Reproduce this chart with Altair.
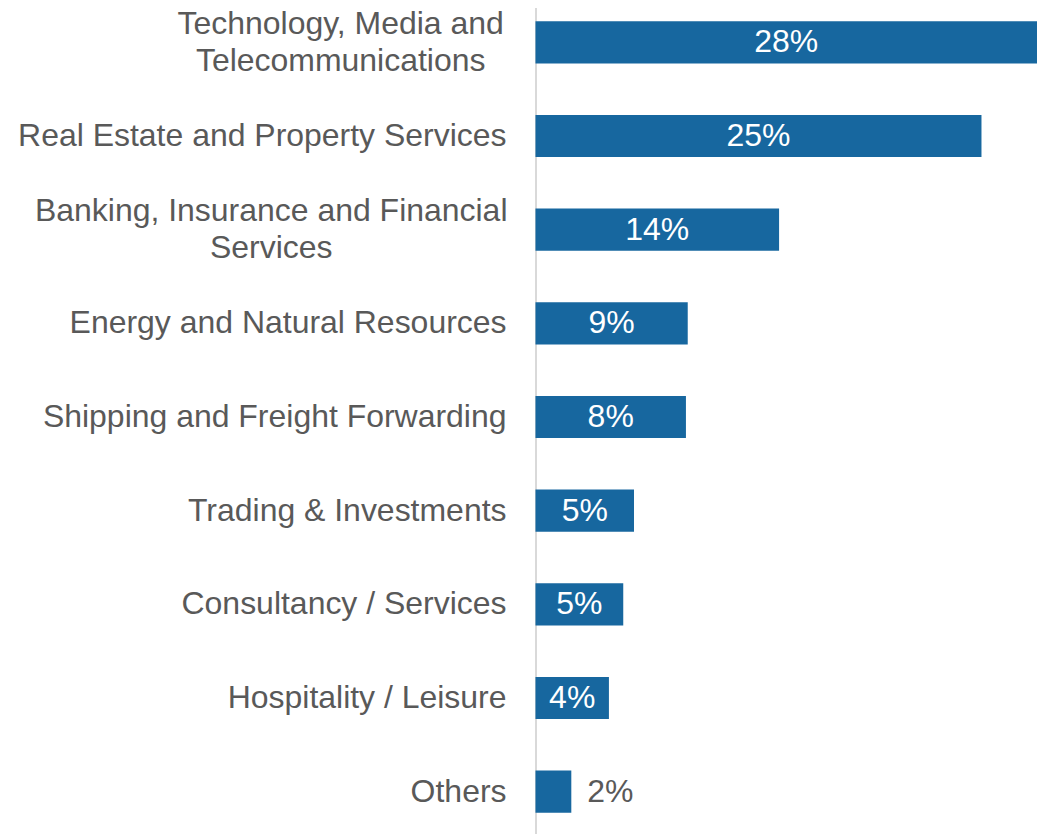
import altair as alt
import pandas as pd

categories = [
    "Technology, Media and Telecommunications",
    "Real Estate and Property Services",
    "Banking, Insurance and Financial Services",
    "Energy and Natural Resources",
    "Shipping and Freight Forwarding",
    "Trading & Investments",
    "Consultancy / Services",
    "Hospitality / Leisure",
    "Others",
]
display_names = [
    "Technology, Media and\nTelecommunications",
    "Real Estate and Property Services",
    "Banking, Insurance and Financial\nServices",
    "Energy and Natural Resources",
    "Shipping and Freight Forwarding",
    "Trading & Investments",
    "Consultancy / Services",
    "Hospitality / Leisure",
    "Others",
]
values = [28.0, 24.9, 13.6, 8.5, 8.4, 5.5, 4.9, 4.1, 2.0]
value_labels = ["28%", "25%", "14%", "9%", "8%", "5%", "5%", "4%", "2%"]

# style
BAR = "#17679F"
GREY = "#595959"
FONT = "Liberation Sans"
FS = 32
LINE_H = 37
LABEL_RIGHT = -29
# centres of the two-line (centre-aligned) category labels
CENTRED = {
    "Technology, Media and Telecommunications": -195,
    "Banking, Insurance and Financial Services": -264.5,
}

df = pd.DataFrame({
    "category": categories,
    "display": display_names,
    "value": values,
    "label": value_labels,
})

y = alt.Y(
    "category:N",
    sort=categories,
    scale=alt.Scale(paddingInner=0.55, paddingOuter=0.223),
    axis=alt.Axis(
        title=None, labels=False, ticks=False, grid=False,
        domain=True, domainColor="#D9D9D9", domainWidth=2,
    ),
)
xscale = alt.Scale(domain=[0, 28], nice=False, zero=True)

base = alt.Chart(df)

bars = base.mark_bar(color=BAR).encode(
    x=alt.X("value:Q", scale=xscale, axis=None),
    y=y,
)

inside = base.transform_filter("datum.value >= 3").transform_calculate(
    mid="datum.value / 2"
).mark_text(
    color="white", font=FONT, fontSize=FS, align="center", baseline="middle"
).encode(
    x=alt.X("mid:Q", scale=xscale, axis=None),
    y=y,
    text="label:N",
)

outside = base.transform_filter("datum.value < 3").mark_text(
    color=GREY, font=FONT, fontSize=FS, align="left", baseline="middle", dx=16
).encode(
    x=alt.X("value:Q", scale=xscale, axis=None),
    y=y,
    text="label:N",
)

centred_names = list(CENTRED.keys())
single = base.transform_filter(
    alt.FieldOneOfPredicate(field="category", oneOf=[c for c in categories if c not in centred_names])
).mark_text(
    color=GREY, font=FONT, fontSize=FS, align="right", baseline="middle"
).encode(
    x=alt.value(LABEL_RIGHT),
    y=y,
    text="display:N",
)

layers = [bars, inside, outside, single]
for name, cx in CENTRED.items():
    layers.append(
        base.transform_filter(alt.FieldEqualPredicate(field="category", equal=name))
        .mark_text(
            color=GREY, font=FONT, fontSize=FS, align="center", baseline="middle",
            lineBreak="\n", lineHeight=LINE_H, dy=-LINE_H / 2,
        )
        .encode(x=alt.value(cx), y=y, text="display:N")
    )

chart = alt.layer(*layers).properties(
    width=502,
    height=834,
    padding={"left": 528, "top": -8, "right": 0, "bottom": 0},
    autosize=alt.AutoSizeParams(type="none"),
).configure_view(stroke=None)

chart.save("out.html", embed_options={"renderer": "svg", "actions": False})
